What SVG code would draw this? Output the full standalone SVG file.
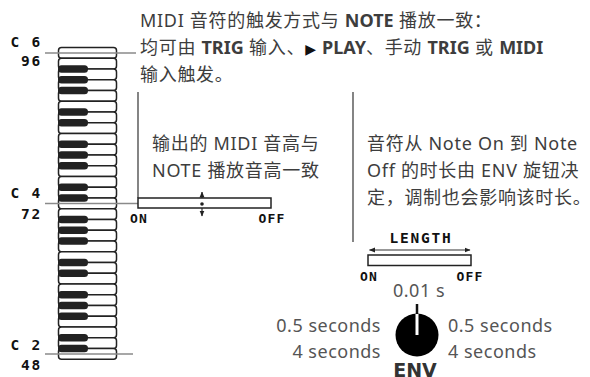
<svg xmlns="http://www.w3.org/2000/svg" width="590" height="377" viewBox="0 0 590 377">
<style>
.wk{fill:#fff;stroke:#222;stroke-width:1.5}
.bk{fill:#222}
.gl{stroke:#8a8a8a;stroke-width:1.5;fill:none}
.vl{stroke:#333;stroke-width:1.2;fill:none}
.lbl{font-family:"DejaVu Sans Mono",monospace;font-weight:bold;font-size:14.5px;fill:#111;letter-spacing:1.8px}
.sm{font-family:"DejaVu Sans Mono",monospace;font-weight:bold;font-size:13px;fill:#111;letter-spacing:1.2px}
.tx{font-family:"Noto Sans","Noto Sans CJK SC",sans-serif;font-size:18px;fill:#3d3d3d;letter-spacing:0.7px}
.b{font-weight:bold;letter-spacing:0px}
.num{font-family:"Noto Sans","Noto Sans CJK SC",sans-serif;font-size:18px;fill:#555;letter-spacing:0.5px}
</style>
<defs>
<marker id="ah" viewBox="0 0 6 6" refX="5.5" refY="3" markerWidth="6" markerHeight="6" orient="auto-start-reverse" markerUnits="userSpaceOnUse">
<path d="M0,0.5 L6,3 L0,5.5 z" fill="#222"/>
</marker>
</defs>

<g id="keyboard">
<rect class="wk" x="58.5" y="47.5" width="58" height="10.75" rx="3"/>
<rect class="wk" x="58.5" y="58.25" width="58" height="10.75" rx="3"/>
<rect class="wk" x="58.5" y="69" width="58" height="10.75" rx="3"/>
<rect class="wk" x="58.5" y="79.75" width="58" height="10.75" rx="3"/>
<rect class="wk" x="58.5" y="90.5" width="58" height="10.75" rx="3"/>
<rect class="wk" x="58.5" y="101.25" width="58" height="10.75" rx="3"/>
<rect class="wk" x="58.5" y="112" width="58" height="10.75" rx="3"/>
<rect class="wk" x="58.5" y="122.75" width="58" height="10.75" rx="3"/>
<rect class="wk" x="58.5" y="133.5" width="58" height="10.75" rx="3"/>
<rect class="wk" x="58.5" y="144.25" width="58" height="10.75" rx="3"/>
<rect class="wk" x="58.5" y="155" width="58" height="10.75" rx="3"/>
<rect class="wk" x="58.5" y="165.75" width="58" height="10.75" rx="3"/>
<rect class="wk" x="58.5" y="176.5" width="58" height="10.75" rx="3"/>
<rect class="wk" x="58.5" y="187.25" width="58" height="10.75" rx="3"/>
<rect class="wk" x="58.5" y="198" width="58" height="10.75" rx="3"/>
<rect class="wk" x="58.5" y="208.75" width="58" height="10.75" rx="3"/>
<rect class="wk" x="58.5" y="219.5" width="58" height="10.75" rx="3"/>
<rect class="wk" x="58.5" y="230.25" width="58" height="10.75" rx="3"/>
<rect class="wk" x="58.5" y="241" width="58" height="10.75" rx="3"/>
<rect class="wk" x="58.5" y="251.75" width="58" height="10.75" rx="3"/>
<rect class="wk" x="58.5" y="262.5" width="58" height="10.75" rx="3"/>
<rect class="wk" x="58.5" y="273.25" width="58" height="10.75" rx="3"/>
<rect class="wk" x="58.5" y="284" width="58" height="10.75" rx="3"/>
<rect class="wk" x="58.5" y="294.75" width="58" height="10.75" rx="3"/>
<rect class="wk" x="58.5" y="305.5" width="58" height="10.75" rx="3"/>
<rect class="wk" x="58.5" y="316.25" width="58" height="10.75" rx="3"/>
<rect class="wk" x="58.5" y="327" width="58" height="10.75" rx="3"/>
<rect class="wk" x="58.5" y="337.75" width="58" height="10.75" rx="3"/>
<rect class="wk" x="58.5" y="348.5" width="58" height="10.75" rx="3"/>
<rect class="bk" x="58" y="65.25" width="30" height="7.5" rx="3.5"/>
<rect class="bk" x="58" y="76" width="30" height="7.5" rx="3.5"/>
<rect class="bk" x="58" y="86.75" width="30" height="7.5" rx="3.5"/>
<rect class="bk" x="58" y="108.25" width="30" height="7.5" rx="3.5"/>
<rect class="bk" x="58" y="119" width="30" height="7.5" rx="3.5"/>
<rect class="bk" x="58" y="140.5" width="30" height="7.5" rx="3.5"/>
<rect class="bk" x="58" y="151.25" width="30" height="7.5" rx="3.5"/>
<rect class="bk" x="58" y="162" width="30" height="7.5" rx="3.5"/>
<rect class="bk" x="58" y="183.5" width="30" height="7.5" rx="3.5"/>
<rect class="bk" x="58" y="194.25" width="30" height="7.5" rx="3.5"/>
<rect class="bk" x="58" y="215.75" width="30" height="7.5" rx="3.5"/>
<rect class="bk" x="58" y="226.5" width="30" height="7.5" rx="3.5"/>
<rect class="bk" x="58" y="237.25" width="30" height="7.5" rx="3.5"/>
<rect class="bk" x="58" y="258.75" width="30" height="7.5" rx="3.5"/>
<rect class="bk" x="58" y="269.5" width="30" height="7.5" rx="3.5"/>
<rect class="bk" x="58" y="291" width="30" height="7.5" rx="3.5"/>
<rect class="bk" x="58" y="301.75" width="30" height="7.5" rx="3.5"/>
<rect class="bk" x="58" y="312.5" width="30" height="7.5" rx="3.5"/>
<rect class="bk" x="58" y="334" width="30" height="7.5" rx="3.5"/>
<rect class="bk" x="58" y="344.75" width="30" height="7.5" rx="3.5"/>
</g>

<g id="connectors">
<line class="gl" x1="45" y1="53" x2="136" y2="53"/>
<line class="gl" x1="45" y1="203.5" x2="138" y2="203.5"/>
<line class="gl" x1="45" y1="354" x2="133" y2="354"/>
<line class="vl" x1="138" y1="92" x2="138" y2="198"/>
<line class="vl" x1="353" y1="92" x2="353" y2="242"/>
<line class="vl" x1="202" y1="192" x2="202" y2="216" marker-start="url(#ah)" marker-end="url(#ah)"/>
<line class="vl" x1="369.5" y1="250" x2="470" y2="250" marker-start="url(#ah)" marker-end="url(#ah)"/>
</g>

<g id="note-labels">
<text class="lbl" x="42" y="47" text-anchor="end">C 6</text>
<text class="lbl" x="42" y="66" text-anchor="end">96</text>
<text class="lbl" x="42" y="198" text-anchor="end">C 4</text>
<text class="lbl" x="42" y="219" text-anchor="end">72</text>
<text class="lbl" x="42" y="350" text-anchor="end">C 2</text>
<text class="lbl" x="42" y="370" text-anchor="end">48</text>
</g>

<g id="trigger-text">
<text class="tx" x="140" y="27">MIDI 音符的触发方式与 <tspan class="b">NOTE</tspan> 播放一致：</text>
<text class="tx" x="140" y="54">均可由 <tspan class="b">TRIG</tspan> 输入、<tspan font-family="DejaVu Sans" font-size="14" fill="#111">▶&#xFE0E;</tspan> <tspan class="b">PLAY</tspan>、手动 <tspan class="b">TRIG</tspan> 或 <tspan class="b">MIDI</tspan></text>
<text class="tx" x="140" y="81">输入触发。</text>
</g>

<g id="pitch-node">
<text class="tx" x="152" y="150">输出的 MIDI 音高与</text>
<text class="tx" x="152" y="177">NOTE 播放音高一致</text>
<rect x="138" y="198" width="133" height="10" fill="#fff" stroke="#222" stroke-width="1.5"/>
<circle cx="202" cy="204" r="1.8" fill="#222"/>
<text class="sm" x="139" y="223" text-anchor="middle">ON</text>
<text class="sm" x="272" y="223" text-anchor="middle">OFF</text>
</g>

<g id="length-node">
<text class="tx" x="367" y="150">音符从 Note On 到 Note</text>
<text class="tx" x="367" y="177">Off 的时长由 ENV 旋钮决</text>
<text class="tx" x="367" y="204">定，调制也会影响该时长。</text>
<text class="lbl" x="421" y="243" text-anchor="middle">LENGTH</text>
<rect x="368" y="255" width="103" height="10.5" fill="#fff" stroke="#222" stroke-width="1.5"/>
<text class="sm" x="369" y="281" text-anchor="middle">ON</text>
<text class="sm" x="470" y="281" text-anchor="middle">OFF</text>
</g>

<g id="env-knob">
<text class="num" x="419" y="297" text-anchor="middle">0.01 s</text>
<line x1="417" y1="304" x2="417" y2="316" stroke="#111" stroke-width="2.5"/>
<circle cx="417" cy="335" r="21.5" fill="#000"/>
<line x1="417" y1="314" x2="417" y2="335" stroke="#fff" stroke-width="3"/>
<text class="num" x="381" y="332" text-anchor="end">0.5 seconds</text>
<text class="num" x="381" y="358" text-anchor="end">4 seconds</text>
<text class="num" x="448" y="332">0.5 seconds</text>
<text class="num" x="448" y="358">4 seconds</text>
<text x="415" y="377" text-anchor="middle" font-family="DejaVu Sans,sans-serif" font-weight="bold" font-size="19" fill="#333">ENV</text>
</g>
</svg>
